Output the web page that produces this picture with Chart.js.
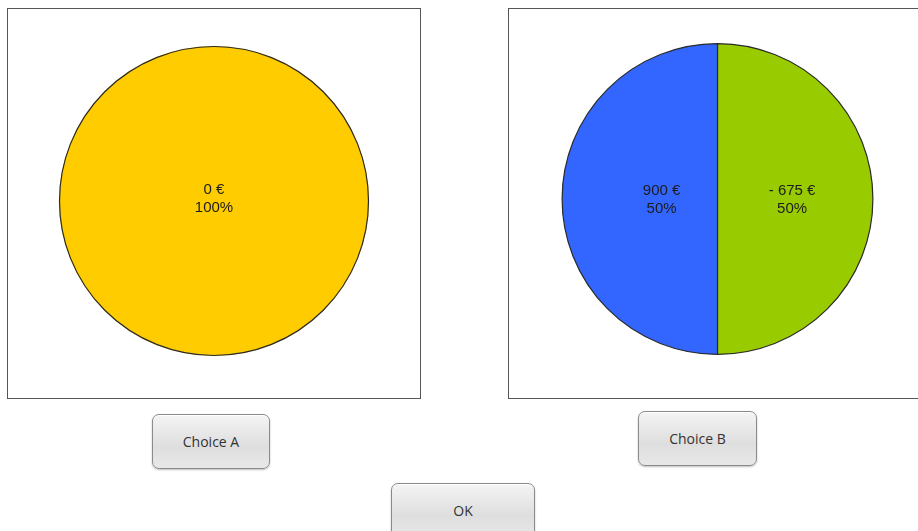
<!DOCTYPE html>
<html>
<head>
<meta charset="utf-8">
<script src="https://cdn.jsdelivr.net/npm/chart.js@4/dist/chart.umd.min.js"></script>
<style>
    html, body { margin: 0; padding: 0; background: #fff; overflow: hidden; width: 918px; height: 531px; }
    .box { position: absolute; top: 8px; width: 412px; height: 389px; border: 1px solid #555; background: #fff; }
    #boxA { left: 7px; }
    #boxB { left: 508px; }
    .btn {
        position: absolute; box-sizing: border-box;
        border: 1px solid #8a8a8a; border-radius: 7px;
        background: linear-gradient(#f4f4f4, #dedede 60%, #e8e8e8);
        box-shadow: inset 0 1px 0 #fff, 0 1px 2px rgba(0,0,0,0.25);
        font-family: "Open Sans", "DejaVu Sans", sans-serif; font-size: 14px; color: #333;
        display: flex; align-items: center; justify-content: center;
    }
    #btnA { left: 152px; top: 414px; width: 118px; height: 55px; }
    #btnB { left: 638px; top: 411px; width: 119px; height: 55px; }
    #btnOK { left: 391px; top: 483px; width: 144px; height: 55px; }
</style>
</head>
<body>
<div class="box" id="boxA"><canvas id="pieA" width="412" height="389"></canvas></div>
<div class="box" id="boxB"><canvas id="pieB" width="412" height="389"></canvas></div>
<div class="btn" id="btnA">Choice A</div>
<div class="btn" id="btnB">Choice B</div>
<div class="btn" id="btnOK">OK</div>
<script>
// Choice A: one outcome
const labelsA = ['0 €'];
const probsA = [100];
const colorsA = ['#FFCC00'];

// Choice B: two outcomes (drawn clockwise from the top)
const labelsB = ['- 675 €', '900 €'];
const probsB = [50, 50];
const colorsB = ['#99CC00', '#3366FF'];

// writes "amount / percent" inside each slice; a single slice gets a plain outline
const sliceLabels = {
    id: 'sliceLabels',
    afterDatasetsDraw(chart) {
        const ctx = chart.ctx;
        const meta = chart.getDatasetMeta(0);
        const data = chart.data.datasets[0].data;
        ctx.save();
        if (data.length === 1) {
            const arc = meta.data[0];
            ctx.beginPath();
            ctx.arc(arc.x, arc.y, arc.outerRadius - 0.5, 0, Math.PI * 2);
            ctx.strokeStyle = '#2a2a2a';
            ctx.lineWidth = 1.2;
            ctx.stroke();
        }
        ctx.font = '15px "Liberation Sans", Arial, sans-serif';
        ctx.fillStyle = '#1c1c1c';
        ctx.textAlign = 'center';
        ctx.textBaseline = 'middle';
        meta.data.forEach((arc, i) => {
            let x = arc.x, y = arc.y - 2;
            if (data.length > 1) {
                const mid = (arc.startAngle + arc.endAngle) / 2;
                const r = arc.outerRadius * (Math.cos(mid) > 0 ? 0.48 : 0.36);
                x = arc.x + Math.cos(mid) * r;
                y = arc.y + Math.sin(mid) * r + 1;
            }
            ctx.fillText(chart.data.labels[i], x, y - 9);
            ctx.fillText(data[i] + '%', x, y + 9);
        });
        ctx.restore();
    }
};

function makePie(id, labels, probs, colors, border, padding) {
    return new Chart(document.getElementById(id), {
        type: 'pie',
        data: {
            labels: labels,
            datasets: [{
                data: probs,
                backgroundColor: colors,
                borderColor: '#2a2a2a',
                borderWidth: border
            }]
        },
        options: {
            responsive: false,
            animation: false,
            devicePixelRatio: 1,
            layout: { padding: padding },
            plugins: {
                legend: { display: false },
                tooltip: { enabled: false }
            }
        },
        plugins: [sliceLabels]
    });
}

makePie('pieA', labelsA, probsA, colorsA, 0, { top: 37, bottom: 42, left: 0, right: 0 });
makePie('pieB', labelsB, probsB, colorsB, 1.2, { top: 34, bottom: 43, left: 5, right: 0 });
</script>
</body>
</html>
